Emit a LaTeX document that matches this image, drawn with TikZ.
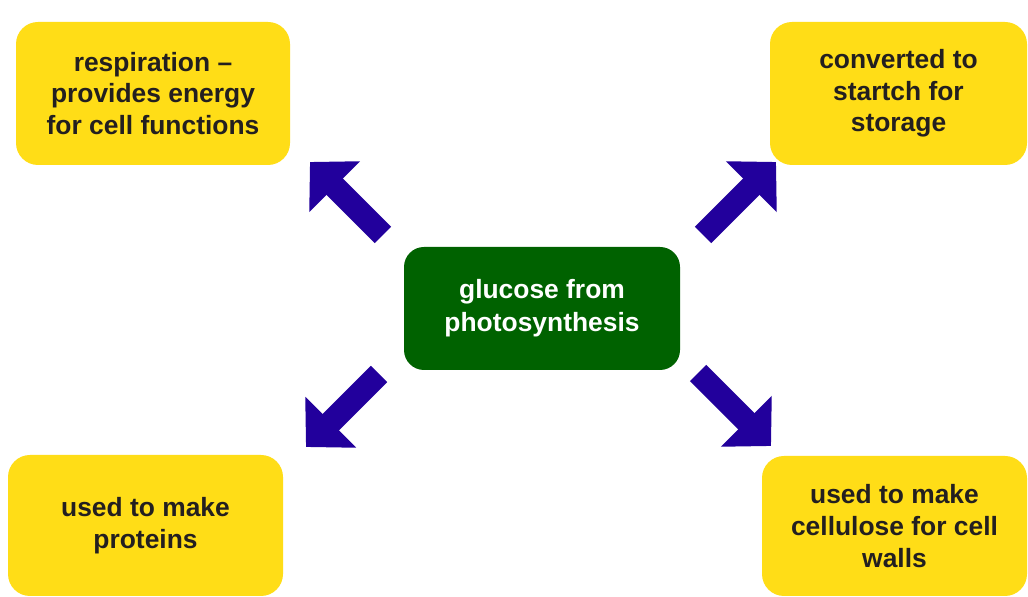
\documentclass[tikz,border=0pt]{standalone}
\usepackage{fontspec}
\setmainfont{Liberation Sans}
\usetikzlibrary{arrows.meta}
\definecolor{sun}{HTML}{FFDD17}
\definecolor{leafgreen}{HTML}{006200}
\definecolor{navy}{HTML}{22009C}
\definecolor{ink}{HTML}{231F20}
\tikzset{
  fate/.style={fill=sun,rounded corners=11pt,align=center,text=ink,font=\fontsize{13.2}{15.8}\selectfont\bfseries,inner sep=0pt},
  src/.style={fill=leafgreen,rounded corners=10pt,align=center,text=white,font=\fontsize{13.2}{16.4}\selectfont\bfseries,inner sep=0pt,minimum width=138pt,minimum height=61.5pt},
  arr/.style={-{Triangle[length=17.5pt,width=35pt]},line width=11.5pt,color=navy}}

\begin{document}
\begin{tikzpicture}[x=0.5pt,y=-0.5pt]
\fill[white] (0,0) rectangle (1028,597);
\useasboundingbox (0,0) rectangle (1028,597);
\node[src] (glu) at (542,308.5) {glucose from\\photosynthesis};
\node[fate,minimum width=137pt,minimum height=71.5pt] (resp) at (153,93.5) {respiration –\\provides energy\\for cell functions};
\node[fate,minimum width=128.5pt,minimum height=71.5pt] (starch) at (898.5,93.5) {converted to\\startch for\\storage};
\node[fate,minimum width=137.5pt,minimum height=70.5pt] (prot) at (145.5,525.5) {used to make\\proteins};
\node[fate,minimum width=132.5pt,minimum height=70pt] (cell) at (894.5,526) {used to make\\cellulose for cell\\walls};
% arrow ends
\coordinate (t1) at (383,235); \coordinate (h1) at (310,162);
\coordinate (t2) at (703,235); \coordinate (h2) at (776,162);
\coordinate (t3) at (379,374); \coordinate (h3) at (306,447);
\coordinate (t4) at (698,373); \coordinate (h4) at (771,446);
\draw[arr] (t1) -- (h1); \draw[arr] (t2) -- (h2);
\draw[arr] (t3) -- (h3); \draw[arr] (t4) -- (h4);
\end{tikzpicture}
\end{document}
